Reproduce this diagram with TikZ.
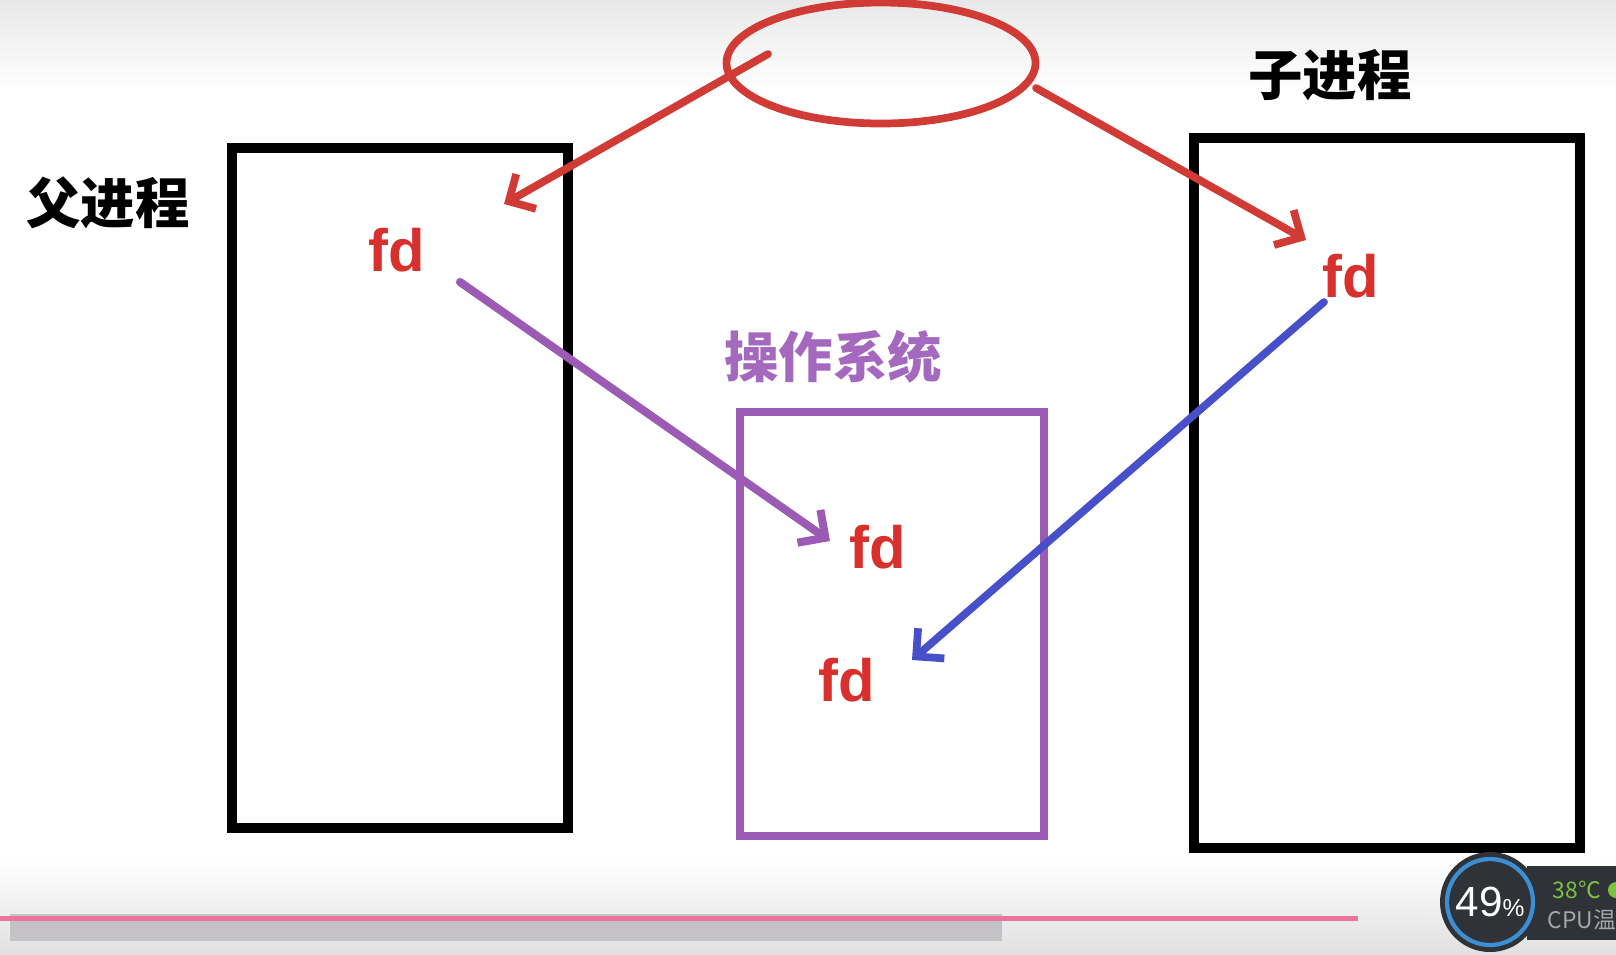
\documentclass[tikz,border=0pt]{standalone}
\usepackage{fontspec}
\setmainfont{Liberation Sans}
\newfontfamily\cjk{Noto Sans CJK SC}
\usetikzlibrary{shapes.geometric, arrows.meta, positioning}

\definecolor{penred}{HTML}{D13B36}
\definecolor{fdred}{HTML}{D8302C}
\definecolor{penpurple}{HTML}{9B5BB5}
\definecolor{labpurple}{HTML}{A469BE}
\definecolor{penblue}{HTML}{4750C8}
\definecolor{widgetbg}{HTML}{2F3338}
\definecolor{widgetring}{HTML}{3C8FD2}
\definecolor{tempgreen}{HTML}{7CC242}
\definecolor{barpink}{HTML}{E7769A}
\definecolor{bargray}{HTML}{C4C2C6}

\begin{document}
\begin{tikzpicture}[
    x=0.1mm, y=-0.1mm,
    >={Straight Barb[length=2mm, width=4mm]},
    red_arrow/.style={draw=penred, line width=2.2pt, line cap=round, ->},
    purple_arrow/.style={draw=penpurple, line width=2.3pt, line cap=round, ->},
    blue_arrow/.style={draw=penblue, line width=2.2pt, line cap=round, ->},
    % boxes
    proc_box/.style={rectangle, draw=black, line width=2.6pt, inner sep=0pt},
    os_box/.style={rectangle, draw=penpurple, line width=2.4pt, inner sep=0pt},
    file_node/.style={ellipse, draw=penred, line width=2.2pt, inner sep=0pt, minimum width=30.9mm, minimum height=12.1mm},
    % texts
    fd_label/.style={font=\bfseries\fontsize{17}{17}\selectfont, text=fdred, inner sep=1pt},
    proc_label/.style={font=\cjk\bfseries\fontsize{15.5}{16}\selectfont, inner sep=1pt}
]
    \useasboundingbox (0,0) rectangle (1616,954);
    \clip (0,0) rectangle (1616,954);

    % screen background
    \shade[top color=black!9, bottom color=white] (0,0) rectangle (1616,90);
    \shade[top color=white, bottom color=black!12] (0,860) rectangle (1616,954);

    % shared file (top)
    \node [file_node] (file) at (881,63) {};

    % parent / child / os
    \node [proc_box, minimum width=33.6mm, minimum height=68mm] (parent) at (400,488) {};
    \node [proc_box, minimum width=38.6mm, minimum height=71mm] (child) at (1387,493) {};
    \node [os_box, minimum width=30.4mm, minimum height=42.4mm] (os) at (892,624) {};

    \node [proc_label] (parentlab) at (108,203) {父进程};
    \node [proc_label] (childlab) at (1330,75) {子进程};
    \node [proc_label, text=labpurple] (oslab) at (833,357) {操作系统};

    \node [fd_label] (pfd) at (397,250) {fd};
    \node [fd_label] (cfd) at (1351,276) {fd};
    \node [fd_label] (osfdA) at (878,547) {fd};
    \node [fd_label] (osfdB) at (847,680) {fd};

    % arrows
    \coordinate (redL) at (768,54);
    \coordinate (redR) at (1036,88);
    \coordinate (pfdtip) at (504,204);
    \coordinate (cfdtip) at (1306,240);
    \coordinate (pfdtail) at (460,282);
    \coordinate (osAtip) at (830,541);
    \coordinate (cfdtail) at (1324,302);
    \coordinate (osBtip) at (912,660);

    \draw [red_arrow] (redL) -- (pfdtip);
    \draw [red_arrow] (redR) -- (cfdtip);
    \draw [purple_arrow] (pfdtail) -- (osAtip);
    \draw [blue_arrow] (cfdtail) -- (osBtip);

    % player bar
    \fill [bargray] (10,914) rectangle (1002,941);
    \fill [black!8] (1358,916) rectangle (1420,921);
    \fill [barpink] (0,916) rectangle (1358,921);

    % cpu widget
    \fill [widgetbg] (1527,866) rectangle (1616,940);
    \node [circle, fill=widgetbg, minimum size=10mm, inner sep=0pt] (cpu) at (1490,902) {};
    \draw [widgetring, line width=1.2pt] (cpu.center) circle (43);
    \node [text=white, font=\fontsize{12}{12}\selectfont, inner sep=0pt] (load) at (cpu.center) {49{\fontsize{7}{7}\selectfont\%}};
    \node [text=tempgreen, font=\cjk\fontsize{6.5}{7}\selectfont, inner sep=0pt] (temp) at (1577,890) {38℃};
    \fill [tempgreen] (1616,890) circle (8);
    \node [text=black!35, font=\cjk\fontsize{6.5}{7}\selectfont, inner sep=0pt, anchor=west] (cpulab) at (1547,920) {CPU温度};
\end{tikzpicture}
\end{document}
